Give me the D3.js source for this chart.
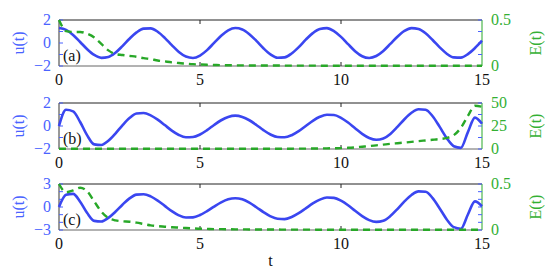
<!DOCTYPE html>
<html>
<head>
<meta charset="utf-8">
<script src="https://cdn.jsdelivr.net/npm/d3@7"></script>
<style>
  body { margin: 0; background: #fff; }
  svg text { font-family: "Liberation Serif", "DejaVu Serif", serif; }
</style>
</head>
<body>
<div id="chart"></div>
<script>
// time grid, step 0.25
var time = [
  0, 0.25, 0.5, 0.75, 1, 1.25, 1.5, 1.75, 2, 2.25, 2.5, 2.75,
  3, 3.25, 3.5, 3.75, 4, 4.25, 4.5, 4.75, 5, 5.25, 5.5, 5.75,
  6, 6.25, 6.5, 6.75, 7, 7.25, 7.5, 7.75, 8, 8.25, 8.5, 8.75,
  9, 9.25, 9.5, 9.75, 10, 10.25, 10.5, 10.75, 11, 11.25, 11.5, 11.75,
  12, 12.25, 12.5, 12.75, 13, 13.25, 13.5, 13.75, 14, 14.25, 14.5, 14.75, 15
];

var u_a = [
  1.30, 1.14, 0.70, 0.09, -0.54, -1.04, -1.29, -1.22, -0.85, -0.27, 0.37, 0.92,
  1.25, 1.27, 0.98, 0.45, -0.19, -0.78, -1.18, -1.30, -1.09, -0.62, 0.01, 0.63,
  1.10, 1.30, 1.18, 0.77, 0.18, -0.46, -0.99, -1.28, -1.25, -0.91, -0.36, 0.29,
  0.86, 1.22, 1.29, 1.03, 0.53, -0.10, -0.71, -1.15, -1.30, -1.13, -0.69, -0.08,
  0.55, 1.05, 1.29, 1.21, 0.84, 0.26, -0.38, -0.93, -1.25, -1.27, -0.97, -0.44, 0.20
];
var E_a = [
  0.50, 0.38, 0.37, 0.37, 0.35, 0.31, 0.24, 0.17, 0.13, 0.12, 0.11, 0.10,
  0.085, 0.075, 0.06, 0.05, 0.04, 0.032, 0.026, 0.02, 0.016, 0.013, 0.011, 0.009,
  0.008, 0.007, 0.007, 0.006, 0.006, 0.005, 0.005, 0.005, 0.004, 0.004, 0.004, 0.004,
  0.004, 0.003, 0.003, 0.003, 0.003, 0.003, 0.003, 0.003, 0.003, 0.002, 0.002, 0.002,
  0.002, 0.002, 0.002, 0.002, 0.002, 0.002, 0.002, 0.002, 0.002, 0.002, 0.002, 0.002, 0.002
];

var u_b = [
  0.00, 1.41, 1.27, 0.35, -0.82, -1.60, -1.65, -1.29, -0.66, 0.06, 0.69, 1.08,
  1.13, 0.93, 0.55, 0.08, -0.40, -0.78, -0.98, -0.96, -0.74, -0.36, 0.09, 0.50,
  0.79, 0.90, 0.79, 0.50, 0.09, -0.36, -0.74, -0.96, -0.98, -0.80, -0.45, 0.00,
  0.45, 0.80, 0.98, 0.96, 0.71, 0.30, -0.20, -0.68, -1.04, -1.20, -1.09, -0.69,
  -0.08, 0.59, 1.15, 1.46, 1.42, 0.85, -0.08, -1.06, -1.76, -1.90, -0.53, 0.73, 0.20
];
var E_b = [
  0.3, 0.3, 0.3, 0.3, 0.3, 0.3, 0.3, 0.3, 0.3, 0.3, 0.3, 0.3,
  0.3, 0.3, 0.3, 0.3, 0.3, 0.3, 0.3, 0.3, 0.3, 0.3, 0.3, 0.3,
  0.3, 0.3, 0.3, 0.3, 0.3, 0.3, 0.3, 0.3, 0.3, 0.35, 0.4, 0.45,
  0.5, 0.6, 0.7, 0.85, 1.0, 1.3, 1.8, 2.5, 3.2, 4.0, 4.8, 5.6,
  6.3, 7.0, 7.8, 8.6, 9.3, 10.0, 10.8, 12.0, 15, 23, 36, 47, 46
];

var u_c = [
  0.00, 1.59, 1.71, 0.69, -0.79, -1.81, -1.89, -1.42, -0.62, 0.30, 1.12, 1.61,
  1.67, 1.39, 0.84, 0.15, -0.54, -1.09, -1.37, -1.35, -1.05, -0.54, 0.06, 0.61,
  1.01, 1.15, 1.00, 0.57, -0.03, -0.67, -1.22, -1.54, -1.58, -1.31, -0.81, -0.18,
  0.46, 0.96, 1.23, 1.19, 0.83, 0.23, -0.50, -1.19, -1.71, -1.94, -1.79, -1.18,
  -0.27, 0.73, 1.57, 2.04, 1.98, 1.16, -0.19, -1.62, -2.63, -2.83, -0.98, 0.73, 0.10
];
var E_c = [
  0.50, 0.41, 0.43, 0.46, 0.42, 0.31, 0.20, 0.13, 0.105, 0.095, 0.09, 0.08,
  0.065, 0.05, 0.042, 0.036, 0.03, 0.026, 0.022, 0.018, 0.014, 0.012, 0.010, 0.009,
  0.008, 0.007, 0.007, 0.006, 0.006, 0.005, 0.005, 0.005, 0.004, 0.004, 0.004, 0.004,
  0.004, 0.003, 0.003, 0.003, 0.003, 0.003, 0.003, 0.003, 0.003, 0.002, 0.002, 0.002,
  0.002, 0.002, 0.002, 0.002, 0.002, 0.002, 0.002, 0.002, 0.002, 0.002, 0.002, 0.002, 0.002
];

var x_ticks = [0, 5, 10, 15];
var panel_labels = ["(a)", "(b)", "(c)"];
var u_domains = [[-2, 2], [-2, 2], [-3, 3]];
var u_ticks = [[-2, 0, 2], [-2, 0, 2], [-3, 0, 3]];
var u_minor = [[-2, -1, 0, 1, 2], [-2, -1, 0, 1, 2], [-3, -2, -1, 0, 1, 2, 3]];
var E_domains = [[0, 0.5], [0, 50], [0, 0.5]];
var E_ticks = [[0, 0.5], [0, 25, 50], [0, 0.5]];

var blue = "#3a46f0", blueText = "#4a63ff", green = "#28a828", greenText = "#33b033";

var width = 545, height = 273;
var margin = { left: 59, right: 63 };
var tops = [20, 103, 184], ph = 46;

var svg = d3.select("#chart").append("svg").attr("width", width).attr("height", height);

var x_scale = d3.scaleLinear().domain([0, 15]).range([margin.left, width - margin.right]);

var panels = [
  { u: u_a, E: E_a },
  { u: u_b, E: E_b },
  { u: u_c, E: E_c }
];

panels.forEach(function(p, i) {
  var top = tops[i], bottom = top + ph;
  var y_u = d3.scaleLinear().domain(u_domains[i]).range([bottom, top]);
  var y_E = d3.scaleLinear().domain(E_domains[i]).range([bottom, top]);
  var g = svg.append("g");

  // frame
  g.append("line").attr("x1", x_scale(0)).attr("x2", x_scale(15)).attr("y1", top).attr("y2", top)
    .attr("stroke", "#222").attr("stroke-width", 1);
  g.append("line").attr("x1", x_scale(0)).attr("x2", x_scale(15)).attr("y1", bottom).attr("y2", bottom)
    .attr("stroke", "#666").attr("stroke-width", 1);
  g.append("line").attr("x1", x_scale(0)).attr("x2", x_scale(0)).attr("y1", top).attr("y2", bottom)
    .attr("stroke", "#333").attr("stroke-width", 1);
  g.append("line").attr("x1", x_scale(15)).attr("x2", x_scale(15)).attr("y1", top).attr("y2", bottom)
    .attr("stroke", green).attr("stroke-width", 1);

  // x ticks, inward top and bottom
  g.selectAll(".xt").data(x_ticks.slice(1, -1)).join("line")
    .attr("x1", d => x_scale(d)).attr("x2", d => x_scale(d))
    .attr("y1", top).attr("y2", top + 4).attr("stroke", "#222");
  g.selectAll(".xb").data(x_ticks.slice(1, -1)).join("line").attr("class", "xb")
    .attr("x1", d => x_scale(d)).attr("x2", d => x_scale(d))
    .attr("y1", bottom).attr("y2", bottom - 4).attr("stroke", "#222");

  // u ticks left and mirrored on right, inward
  g.selectAll(".ul").data(u_minor[i]).join("line").attr("class", "ul")
    .attr("x1", x_scale(0)).attr("x2", x_scale(0) + 4)
    .attr("y1", d => y_u(d)).attr("y2", d => y_u(d)).attr("stroke", blueText);
  g.selectAll(".ur").data(u_minor[i]).join("line").attr("class", "ur")
    .attr("x1", x_scale(15)).attr("x2", x_scale(15) - 4)
    .attr("y1", d => y_u(d)).attr("y2", d => y_u(d)).attr("stroke", blueText);

  // x tick labels
  g.selectAll(".xl").data(x_ticks).join("text").attr("class", "xl")
    .attr("x", d => x_scale(d)).attr("y", bottom + 19)
    .attr("text-anchor", "middle").attr("font-size", 16).attr("fill", "#111")
    .text(d => d);

  // u tick labels
  g.selectAll(".uy").data(u_ticks[i]).join("text").attr("class", "uy")
    .attr("x", x_scale(0) - 8).attr("y", d => y_u(d) + 5)
    .attr("text-anchor", "end").attr("font-size", 16).attr("fill", blueText)
    .text(d => d < 0 ? "\u2212" + Math.abs(d) : d);

  // E tick labels
  g.selectAll(".ey").data(E_ticks[i]).join("text").attr("class", "ey")
    .attr("x", x_scale(15) + 9).attr("y", d => y_E(d) + 5)
    .attr("text-anchor", "start").attr("font-size", 16).attr("fill", greenText)
    .text(d => d);

  // axis titles
  g.append("text").attr("transform", "translate(24," + (top + ph / 2) + ") rotate(-90)")
    .attr("text-anchor", "middle").attr("font-size", 16).attr("fill", blueText).text("u(t)");
  g.append("text").attr("transform", "translate(541," + (top + ph / 2) + ") rotate(-90)")
    .attr("text-anchor", "middle").attr("font-size", 16).attr("fill", greenText).text("E(t)");

  // panel label
  g.append("text").attr("x", x_scale(0) + 4).attr("y", bottom - 5)
    .attr("font-size", 16).attr("fill", "#111").text(panel_labels[i]);

  // u(t) line
  g.append("path").datum(time)
    .attr("fill", "none").attr("stroke", blue).attr("stroke-width", 2.6)
    .attr("d", d3.line().curve(d3.curveMonotoneX)
      .x(d => x_scale(d)).y((d, k) => y_u(p.u[k])));

  // E(t) line
  g.append("path").datum(time)
    .attr("fill", "none").attr("stroke", green).attr("stroke-width", 2.4)
    .attr("stroke-dasharray", "7,5")
    .attr("d", d3.line().curve(d3.curveMonotoneX)
      .x(d => x_scale(d)).y((d, k) => y_E(p.E[k])));
});

svg.append("text").attr("x", x_scale(7.5)).attr("y", 266)
  .attr("text-anchor", "middle").attr("font-size", 16).attr("fill", "#111").text("t");
</script>
</body>
</html>
